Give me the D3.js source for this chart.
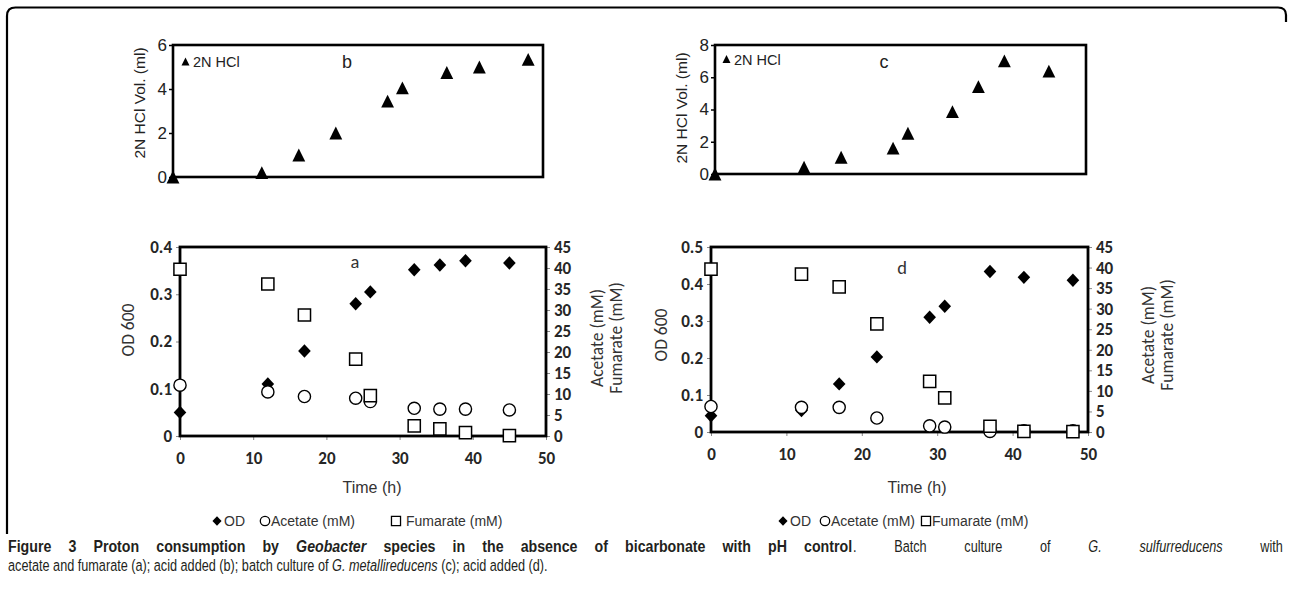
<!DOCTYPE html>
<html><head><meta charset="utf-8">
<script src="https://cdn.jsdelivr.net/npm/d3@7"></script>
<style>body{margin:0;background:#fff} svg{display:block}</style>
</head><body>
<svg id="chart" width="1289" height="599"></svg>
<script>
// ---------- DATA ----------
const timeB = [0, 12, 17, 22, 29, 31, 37, 41.4, 48];
const hclB  = [0, 0.2, 1.0, 2.0, 3.45, 4.05, 4.75, 5.0, 5.35];
const timeC = [0, 12, 17, 24, 26, 32, 35.5, 39, 45];
const hclC  = [0, 0.42, 1.04, 1.6, 2.53, 3.87, 5.42, 7.02, 6.38];

const timeA     = [0, 12, 17, 24, 26, 32, 35.5, 39, 45];
const odA       = [0.05, 0.11, 0.18, 0.28, 0.305, 0.352, 0.362, 0.371, 0.366];
const acetateA  = [12.1, 10.5, 9.4, 9.0, 8.2, 6.6, 6.4, 6.4, 6.2];
const fumarateA = [39.7, 36.2, 28.8, 18.3, 9.6, 2.4, 1.7, 0.8, 0.1];

const timeD     = [0, 12, 17, 22, 29, 31, 37, 41.5, 48];
const odD       = [0.044, 0.058, 0.13, 0.203, 0.31, 0.34, 0.434, 0.418, 0.41];
const acetateD  = [6.2, 6.0, 6.0, 3.4, 1.5, 1.2, 0.15, 0.3, 0.3];
const fumarateD = [39.6, 38.4, 35.3, 26.3, 12.3, 8.3, 1.4, 0.15, 0.1];

const ticksB = [0, 2, 4, 6];
const ticksC = [0, 2, 4, 6, 8];
const ticksOdA = [0, 0.1, 0.2, 0.3, 0.4];
const ticksOdD = [0, 0.1, 0.2, 0.3, 0.4, 0.5];
const ticksRight = [0, 5, 10, 15, 20, 25, 30, 35, 40, 45];
const ticksTime = [0, 10, 20, 30, 40, 50];

const seriesNames = ["OD", "Acetate (mM)", "Fumarate (mM)"];
const hclName = "2N HCl";
const hclAxisTitle = "2N HCl Vol. (ml)";
const odAxisTitle = "OD 600";
const rightTitles = ["Acetate (mM)", "Fumarate (mM)"];
const timeTitle = "Time (h)";

// ---------- SYMBOLS ----------
const triSym = {draw(ctx, size){ const s = Math.sqrt(size); ctx.moveTo(0,-s/2); ctx.lineTo(s/2,s/2); ctx.lineTo(-s/2,s/2); ctx.closePath(); }};
const diaSym = {draw(ctx, size){ const s = Math.sqrt(size); ctx.moveTo(0,-s/2); ctx.lineTo(s*0.47,0); ctx.lineTo(0,s/2); ctx.lineTo(-s*0.47,0); ctx.closePath(); }};
const sqSym  = {draw(ctx, size){ const s = Math.sqrt(size); ctx.rect(-s/2,-s/2,s,s); }};

const svg = d3.select("#chart");
const ARIAL = "'Liberation Sans', Arial, Helvetica, sans-serif";
const CAL = "Carlito, Lato, 'Open Sans', sans-serif";

// outer frame
svg.append("path")
  .attr("d", "M7,534 V16 Q7,7.5 15.5,7.5 H1278 Q1286,7.5 1286,15 V22")
  .attr("fill","none").attr("stroke","#000").attr("stroke-width",2.2);

// ---------- TOP PANELS ----------
function topPanel(o){
  const g = svg.append("g");
  const x = d3.scaleLinear([0,50],[o.x0,o.x1]);
  const y = d3.scaleLinear([0,o.ymax],[o.y1,o.y0]);
  const ax = g.append("g").attr("transform",`translate(${o.x0},0)`)
    .call(d3.axisLeft(y).tickValues(o.ticks).tickSize(4).tickPadding(2).tickFormat(d3.format("d")));
  ax.select(".domain").remove();
  ax.selectAll("line").attr("stroke","#000").attr("stroke-width",1.5);
  ax.selectAll("text").attr("font-family",ARIAL).attr("font-size",17).attr("fill","#222");
  g.append("rect").attr("x",o.x0).attr("y",o.y0).attr("width",o.x1-o.x0).attr("height",o.y1-o.y0)
    .attr("fill","none").attr("stroke","#000").attr("stroke-width",2.6);
  g.append("text").attr("transform",`translate(${o.labelX},${o.labelY}) rotate(-90)`)
    .attr("text-anchor","middle").attr("dominant-baseline","central")
    .attr("font-family",ARIAL).attr("font-size",15.5).attr("fill","#222").text(hclAxisTitle);
  g.selectAll("path.pt").data(o.times.map((t,i)=>[t,o.vals[i]])).join("path")
    .attr("class","pt").attr("transform",d=>`translate(${x(d[0])},${y(d[1])})`)
    .attr("d", d3.symbol().type(triSym).size(165)).attr("fill","#000");
  // legend
  g.append("path").attr("transform",`translate(${o.legX},${o.legY})`)
    .attr("d", d3.symbol().type(triSym).size(64)).attr("fill","#000");
  g.append("text").attr("x",o.legX+7.5).attr("y",o.legY+5.5)
    .attr("font-family",ARIAL).attr("font-size",14.5).attr("fill","#222").text(hclName);
  g.append("text").attr("x",o.letterX).attr("y",o.letterY).attr("text-anchor","middle")
    .attr("dominant-baseline","central")
    .attr("font-family",ARIAL).attr("font-size",18).attr("fill","#222").text(o.letter);
}
topPanel({x0:173,x1:543,y0:45,y1:177,ymax:6,ticks:ticksB,times:timeB,vals:hclB,
  labelX:139,labelY:103,letter:"b",letterX:347,letterY:62,legX:185.5,legY:61.5});
topPanel({x0:715,x1:1086,y0:45,y1:174,ymax:8,ticks:ticksC,times:timeC,vals:hclC,
  labelX:681,labelY:108,letter:"c",letterX:884,letterY:62,legX:726.5,legY:59});

// ---------- BOTTOM PANELS ----------
function bottomPanel(o){
  const g = svg.append("g");
  const x = d3.scaleLinear([0,50],[o.x0,o.x1]);
  const yL = d3.scaleLinear([0,o.lmax],[o.y1,o.y0]);
  const yR = d3.scaleLinear([0,45],[o.y1,o.y0]);
  const style = sel => {
    sel.select(".domain").remove();
    sel.selectAll("line").attr("stroke","#888").attr("stroke-width",1);
    sel.selectAll("text").attr("font-family",CAL).attr("font-weight",800).attr("font-size",17).attr("fill","#262626");
  };
  g.append("g").attr("transform",`translate(${o.x0},0)`)
    .call(d3.axisLeft(yL).tickValues(o.lticks).tickSize(4).tickPadding(4).tickFormat(d=>d===0?"0":d3.format(".1f")(d))).call(style);
  g.append("g").attr("transform",`translate(${o.x1},0)`)
    .call(d3.axisRight(yR).tickValues(ticksRight).tickSize(4).tickPadding(4).tickFormat(d3.format("d"))).call(style);
  g.append("g").attr("transform",`translate(0,${o.y1})`)
    .call(d3.axisBottom(x).tickValues(ticksTime).tickSize(4).tickPadding(12).tickFormat(d3.format("d"))).call(style);
  g.append("rect").attr("x",o.x0).attr("y",o.y0).attr("width",o.x1-o.x0).attr("height",o.y1-o.y0)
    .attr("fill","none").attr("stroke","#000").attr("stroke-width",2.8);
  g.append("text").attr("transform",`translate(${o.odX},${o.odY}) rotate(-90)`)
    .attr("text-anchor","middle").attr("dominant-baseline","central")
    .attr("font-family",CAL).attr("font-size",17.5).attr("fill","#333").text(odAxisTitle);
  rightTitles.forEach((t,i)=>{
    g.append("text").attr("transform",`translate(${o.rX + i*18.5},${o.rY}) rotate(-90)`)
      .attr("text-anchor","middle").attr("dominant-baseline","central")
      .attr("font-family",CAL).attr("font-size",17.5).attr("fill","#333").text(t);
  });
  g.append("text").attr("x",o.tX).attr("y",o.tY).attr("text-anchor","middle").attr("dominant-baseline","central")
    .attr("font-family",ARIAL).attr("font-size",16).attr("fill","#333").text(timeTitle);
  g.append("text").attr("x",o.letterX).attr("y",o.letterY).attr("text-anchor","middle").attr("dominant-baseline","central")
    .attr("font-family",CAL).attr("font-size",18.5).attr("fill","#333").text(o.letter);
  // markers
  g.selectAll("path.od").data(o.times.map((t,i)=>[t,o.od[i]])).join("path").attr("class","od")
    .attr("transform",d=>`translate(${x(d[0])},${yL(d[1])})`)
    .attr("d", d3.symbol().type(diaSym).size(180)).attr("fill","#000");
  g.selectAll("circle.ac").data(o.times.map((t,i)=>[t,o.ac[i]])).join("circle").attr("class","ac")
    .attr("cx",d=>x(d[0])).attr("cy",d=>yR(d[1])).attr("r",6.1)
    .attr("fill","#fff").attr("stroke","#000").attr("stroke-width",1.4);
  g.selectAll("path.fu").data(o.times.map((t,i)=>[t,o.fu[i]])).join("path").attr("class","fu")
    .attr("transform",d=>`translate(${x(d[0])},${yR(d[1])})`)
    .attr("d", d3.symbol().type(sqSym).size(148)).attr("fill","#fff").attr("stroke","#000").attr("stroke-width",1.5);
  // legend
  const L = o.leg, ly = o.legY;
  const lg = g.append("g");
  lg.append("path").attr("transform",`translate(${L[0]},${ly})`).attr("d",d3.symbol().type(diaSym).size(95)).attr("fill","#000");
  lg.append("circle").attr("cx",L[2]).attr("cy",ly).attr("r",4.7).attr("fill","#fff").attr("stroke","#000").attr("stroke-width",1.3);
  lg.append("path").attr("transform",`translate(${L[4]},${ly})`).attr("d",d3.symbol().type(sqSym).size(82)).attr("fill","#fff").attr("stroke","#000").attr("stroke-width",1.3);
  [[L[1],0],[L[3],1],[L[5],2]].forEach(([tx,i])=>{
    lg.append("text").attr("x",tx).attr("y",ly).attr("dominant-baseline","central")
      .attr("font-family",ARIAL).attr("font-size",14).attr("fill","#333").text(seriesNames[i]);
  });
}
bottomPanel({x0:180,x1:546,y0:247,y1:436,lmax:0.4,lticks:ticksOdA,times:timeA,od:odA,ac:acetateA,fu:fumarateA,
  odX:128,odY:330,rX:597,rY:338,tX:372,tY:487,letter:"a",letterX:355,letterY:261,
  leg:[217,224,265,271,396,406],legY:521});
bottomPanel({x0:711,x1:1088,y0:247,y1:432,lmax:0.5,lticks:ticksOdD,times:timeD,od:odD,ac:acetateD,fu:fumarateD,
  odX:661,odY:335,rX:1148,rY:335,tX:917,tY:487,letter:"d",letterX:902,letterY:267,
  leg:[783,790,825,831,926,932],legY:521});

// ---------- CAPTION (justified first line, natural last line) ----------
const CAP = "'Liberation Sans', Arial, sans-serif";
function capText(){ return svg.append("text").attr("font-family",CAP).attr("font-size",16.5).attr("fill","#231f20"); }
const cap1b = capText().attr("font-weight",700);
cap1b.append("tspan").text("Figure 3 Proton consumption by ");
cap1b.append("tspan").attr("font-style","italic").text("Geobacter");
cap1b.append("tspan").text(" species in the absence of bicarbonate with pH control");
const cap1r = capText();
cap1r.append("tspan").text(". Batch culture of ");
cap1r.append("tspan").attr("font-style","italic").text("G. sulfurreducens");
cap1r.append("tspan").text(" with");
const cap2 = capText();
cap2.append("tspan").text("acetate and fumarate (a); acid added (b); batch culture of ");
cap2.append("tspan").attr("font-style","italic").text("G. metallireducens");
cap2.append("tspan").text(" (c); acid added (d).");
const s2 = 540 / cap2.node().getComputedTextLength();
const sb = s2 * 1.12;
function justify(sel, scale, width){
  const n = (sel.text().match(/ /g) || []).length;
  const w = sel.node().getComputedTextLength();
  sel.style("word-spacing", Math.max(0, (width / scale - w) / n) + "px");
}
justify(cap1b, sb, 845);
justify(cap1r, s2, 430);
cap1b.attr("transform",`translate(8,552) scale(${sb},1)`);
cap1r.attr("transform",`translate(853,552) scale(${s2},1)`);
cap2.attr("transform",`translate(8,571) scale(${s2},1)`);
</script></body></html>
